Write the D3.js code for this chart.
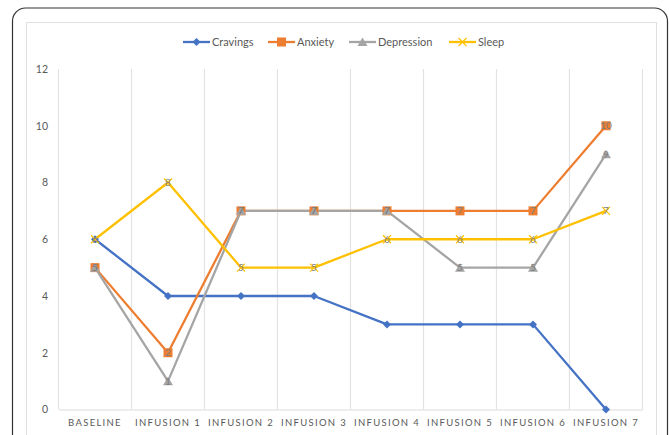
<!DOCTYPE html>
<html><head><meta charset="utf-8">
<script src="https://cdn.jsdelivr.net/npm/d3@7"></script>
<style>
html,body{margin:0;padding:0;background:#fff;}
svg{display:block;font-family:Lato,"Liberation Sans",sans-serif;}
</style></head>
<body>
<svg id="c" width="669" height="435"></svg>
<script>
const categories = ["BASELINE","INFUSION 1","INFUSION 2","INFUSION 3","INFUSION 4","INFUSION 5","INFUSION 6","INFUSION 7"];
const cravings   = [6,4,4,4,3,3,3,0];
const anxiety    = [5,2,7,7,7,7,7,10];
const depression = [5,1,7,7,7,5,5,9];
const sleep      = [6,8,5,5,6,6,6,7];
const yTicks     = [0,2,4,6,8,10,12];

const series = [
  {name:"Cravings",   values:cravings,   color:"#4472C4", marker:"diamond", label:false},
  {name:"Anxiety",    values:anxiety,    color:"#ED7D31", marker:"square",  label:true},
  {name:"Depression", values:depression, color:"#A5A5A5", marker:"triangle",label:true},
  {name:"Sleep",      values:sleep,      color:"#FFC000", marker:"x",       label:true}
];

const svg = d3.select("#c");
// outer frame
svg.append("rect").attr("x",12.5).attr("y",8).attr("width",655).attr("height",460)
  .attr("rx",13).attr("fill","#fff").attr("stroke","#333").attr("stroke-width",1.2);
// inner chart border
svg.append("rect").attr("x",26.5).attr("y",22.5).attr("width",630).attr("height",440)
  .attr("fill","#fff").attr("stroke","#e0e0e0").attr("stroke-width",1);

const x = d3.scaleBand().domain(categories).range([58.5,642.5]);
const y = d3.scaleLinear().domain([0,12]).range([409.5,69]);

// vertical gridlines at band boundaries
const bounds = categories.map(c=>x(c)).concat([x.range()[1]]);
svg.append("g").selectAll("line").data(bounds).join("line")
  .attr("x1",d=>d).attr("x2",d=>d).attr("y1",y(12)).attr("y2",y(0))
  .attr("stroke","#e3e3e3").attr("stroke-width",1.2);

// x axis
const xa = svg.append("g").attr("transform",`translate(0,${y(0)})`)
  .call(d3.axisBottom(x).tickSize(0).tickPadding(10));
xa.select(".domain").attr("stroke","#dcdcdc").attr("stroke-width",1.2);
xa.selectAll("text").attr("fill","#595959").style("font-size","9.5px")
  .style("letter-spacing","1.3px").style("font-family","Lato,sans-serif");

// y axis
const ya = svg.append("g").attr("transform",`translate(48,0)`)
  .call(d3.axisLeft(y).tickValues(yTicks).tickSize(0).tickPadding(0));
ya.select(".domain").remove();
ya.selectAll("text").attr("fill","#595959").style("font-size","10.5px").style("font-family","Lato,sans-serif");

const cx = i => x(categories[i]) + x.bandwidth()/2;

const line = d3.line().x((d,i)=>cx(i)).y(d=>y(d));
series.forEach(s=>{
  svg.append("path").datum(s.values).attr("d",line)
    .attr("fill","none").attr("stroke",s.color).attr("stroke-width",2.3)
    .attr("stroke-linejoin","round");
});

function drawMarker(g, type, px, py, color){
  if(type==="diamond"){
    g.append("path").attr("d",`M${px},${py-4}L${px+4},${py}L${px},${py+4}L${px-4},${py}Z`).attr("fill",color);
  } else if(type==="square"){
    g.append("rect").attr("x",px-4.5).attr("y",py-4.5).attr("width",9).attr("height",9).attr("fill",color);
  } else if(type==="triangle"){
    g.append("path").attr("d",`M${px},${py-4.5}L${px+5},${py+4}L${px-5},${py+4}Z`).attr("fill",color);
  } else if(type==="x"){
    g.append("path").attr("d",`M${px-4},${py-4}L${px+4},${py+4}M${px+4},${py-4}L${px-4},${py+4}`)
      .attr("stroke",color).attr("stroke-width",1.2).attr("fill","none");
  }
}

const mg = svg.append("g");
series.forEach(s=>{
  s.values.forEach((v,i)=>drawMarker(mg, s.marker, cx(i), y(v), s.color));
});
const lg = svg.append("g");
series.filter(s=>s.label).forEach(s=>{
  lg.selectAll(null).data(s.values).join("text")
    .attr("x",(d,i)=>cx(i)).attr("y",d=>y(d)).attr("dy","0.35em")
    .attr("text-anchor","middle").attr("fill","#7f7f7f")
    .style("font-size","10px").text(d=>d);
});

// legend
const legendX = [183,268,349,449];
const leg = svg.append("g");
series.forEach((s,i)=>{
  const lx = legendX[i], ly = 42;
  leg.append("line").attr("x1",lx).attr("x2",lx+27).attr("y1",ly).attr("y2",ly)
    .attr("stroke",s.color).attr("stroke-width",2.3);
  drawMarker(leg, s.marker, lx+13.5, ly, s.color);
  leg.append("text").attr("x",lx+29).attr("y",ly).attr("dy","0.35em")
    .attr("fill","#595959").style("font-size","11px").text(s.name);
});
</script>
</body></html>
